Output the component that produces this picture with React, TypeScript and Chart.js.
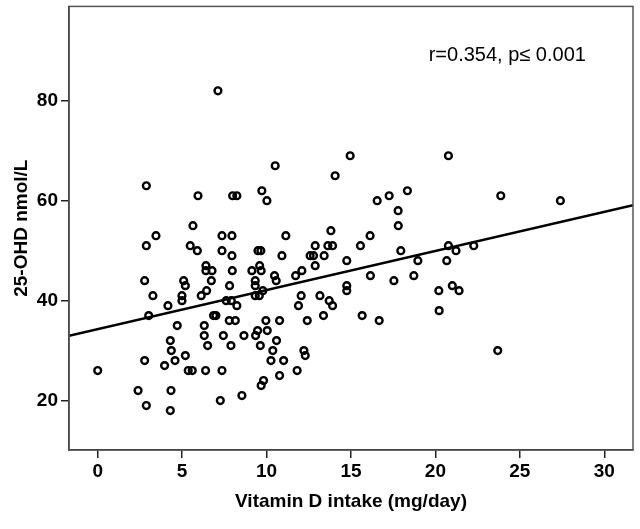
import React, { useEffect, useRef } from 'react';
import { Chart, registerables } from 'chart.js';

Chart.register(...registerables);

// Vitamin D intake (mg/day)
const intakeValues: number[] = [
  7.12, 14.95, 10.51, 14.06, 2.88, 5.94, 7.99, 8.24, 9.72, 10.02,
  20.77, 16.55, 17.26, 18.34, 17.79, 23.87, 27.4,
  17.8, 16.13, 15.56, 14.75, 14.75, 14.75, 17.95, 18.96, 16.15, 17.54, 18.72, 15.66, 16.67,
  20.77, 21.22, 22.27, 20.67, 20.2, 21.0, 21.4, 20.22, 23.69,
  5.64,
  13.81,
  3.45, 7.36, 7.95, 11.14,
  2.88, 5.48, 12.88, 13.63, 13.91,
  5.9, 7.36, 9.49, 9.66,
  7.95, 10.91, 12.58, 12.78, 13.41,
  6.41, 9.59, 12.88,
  6.41, 6.77, 7.97, 9.13, 9.68, 12.09,
  10.47, 11.72,
  2.78, 5.09, 6.73, 9.33, 10.57,
  5.19, 7.81, 9.33,
  6.45, 9.78,
  3.27, 4.99, 6.13, 9.33, 9.57, 12.05, 13.16,
  4.99, 7.61, 7.91, 13.71,
  4.16, 8.24, 11.89, 13.91,
  3.02, 6.86, 7.0, 13.37,
  7.79, 8.15, 9.96, 10.77, 12.41,
  4.71, 6.31,
  9.47, 10.04,
  6.31, 7.44, 8.66, 9.35,
  4.3, 10.59,
  6.51, 7.89, 9.63,
  4.36, 10.37, 12.21,
  5.19, 12.29,
  2.78, 4.58, 10.26, 11.01,
  3.96,
  0, 5.36, 5.6, 6.39, 7.36, 11.81,
  10.77,
  9.82,
  9.68,
  2.39, 4.34,
  8.54,
  7.26,
  2.88,
  4.3,
];

// 25-OHD nmol/L
const ohdValues: number[] = [
  82, 69, 67, 65, 63, 61, 61, 61, 62, 60,
  69, 60, 61, 62, 58, 61, 60,
  55, 53, 51, 48, 43, 42, 50, 48, 45, 44, 45, 37, 36,
  51, 50, 51, 48, 42, 43, 42, 38, 30,
  55,
  54,
  53, 53, 53, 53,
  51, 51, 51, 51, 51,
  50, 50, 50, 50,
  49, 49, 49, 49, 49,
  47, 47, 47,
  46, 46, 46, 46, 46, 46,
  45, 45,
  44, 44, 44, 44, 44,
  43, 43, 43,
  42, 42,
  41, 41, 41, 41, 41, 41, 41,
  40, 40, 40, 40,
  39, 39, 39, 39,
  37, 37, 37, 37,
  36, 36, 36, 36, 36,
  35, 35,
  34, 34,
  33, 33, 33, 33,
  32, 32,
  31, 31, 31,
  30, 30, 30,
  29, 29,
  28, 28, 28, 28,
  27,
  26, 26, 26, 26, 26, 26,
  25,
  24,
  23,
  22, 22,
  21,
  20,
  19,
  18,
];

const xTickValues: number[] = [0, 5, 10, 15, 20, 25, 30];
const yTickValues: number[] = [20, 40, 60, 80];
const xMin = -1.7;
const xMax = 31.7;
const yMin = 10.1;
const yMax = 98.9;

const regIntercept = 34.3;
const regSlope = 0.783;

const annotationText = 'r=0.354, p\u2264 0.001';
const annotationX = 19.6;
const annotationY = 89;

const xTitle = 'Vitamin D intake (mg/day)';
const yTitle = '25-OHD nmol/L';

const FONT = "'Liberation Sans', Arial, Helvetica, sans-serif";

const framePlugin = {
  id: 'frame',
  afterDraw(chart: any) {
    const { ctx, chartArea } = chart;
    ctx.save();
    ctx.strokeStyle = '#555';
    ctx.lineWidth = 1.5;
    ctx.strokeRect(chartArea.left, chartArea.top, chartArea.right - chartArea.left, chartArea.bottom - chartArea.top);
    ctx.restore();
    const xs = chart.scales.x;
    const ys = chart.scales.y;
    ctx.save();
    ctx.fillStyle = '#000';
    ctx.font = `20px ${FONT}`;
    ctx.textBaseline = 'middle';
    ctx.textAlign = 'left';
    ctx.fillText(annotationText, xs.getPixelForValue(annotationX), ys.getPixelForValue(annotationY));
    ctx.restore();
  },
};

export default function App() {
  const canvasRef = useRef<HTMLCanvasElement | null>(null);

  useEffect(() => {
    const canvas = canvasRef.current;
    if (!canvas) return;
    const points = intakeValues.map((x, i) => ({ x, y: ohdValues[i] }));
    const linePts = [
      { x: xMin, y: regIntercept + regSlope * xMin },
      { x: xMax, y: regIntercept + regSlope * xMax },
    ];
    const chart = new Chart(canvas, {
      type: 'scatter',
      data: {
        datasets: [
          {
            type: 'line',
            data: linePts,
            borderColor: '#000',
            borderWidth: 2.5,
            pointRadius: 0,
            fill: false,
            order: 1,
          } as any,
          {
            data: points,
            pointStyle: 'circle',
            pointRadius: 3.4,
            pointBorderWidth: 2.4,
            pointBorderColor: '#000',
            pointBackgroundColor: 'rgba(255,255,255,0)',
            borderColor: '#000',
            backgroundColor: 'rgba(255,255,255,0)',
            order: 0,
          },
        ],
      },
      options: {
        animation: false,
        responsive: false,
        maintainAspectRatio: false,
        layout: { padding: { top: 6, right: 7, left: 6, bottom: 12 } },
        plugins: {
          legend: { display: false },
          tooltip: { enabled: false },
        },
        scales: {
          x: {
            type: 'linear',
            min: xMin,
            max: xMax,
            afterBuildTicks: (scale: any) => {
              scale.ticks = xTickValues.map((v) => ({ value: v }));
            },
            afterFit: (scale: any) => {
              scale.height = 67;
              scale.paddingLeft = 0;
              scale.paddingRight = 0;
            },
            grid: { display: true, drawOnChartArea: false, drawTicks: true, tickLength: 8, color: '#222', lineWidth: 1.5 },
            border: { display: true, color: '#222', width: 1.5 },
            ticks: {
              color: '#000',
              padding: 2,
              font: { family: FONT, size: 19, weight: 'bold' },
            },
            title: {
              display: true,
              text: xTitle,
              color: '#000',
              font: { family: FONT, size: 19, weight: 'bold' },
              padding: { top: 4, bottom: 4 },
            },
          },
          y: {
            type: 'linear',
            min: yMin,
            max: yMax,
            afterBuildTicks: (scale: any) => {
              scale.ticks = yTickValues.map((v) => ({ value: v }));
            },
            afterFit: (scale: any) => {
              scale.width = 63;
              scale.paddingTop = 0;
              scale.paddingBottom = 0;
            },
            grid: { display: true, drawOnChartArea: false, drawTicks: true, tickLength: 8, color: '#222', lineWidth: 1.5 },
            border: { display: true, color: '#222', width: 1.5 },
            ticks: {
              color: '#000',
              padding: 3,
              font: { family: FONT, size: 19, weight: 'bold' },
            },
            title: {
              display: true,
              text: yTitle,
              color: '#000',
              font: { family: FONT, size: 19, weight: 'bold' },
              padding: { top: 4, bottom: 4 },
            },
          },
        },
      },
      plugins: [framePlugin],
    });
    return () => chart.destroy();
  }, []);

  return (
    <div style={{ position: 'fixed', left: 0, top: 0, width: 640, height: 529, background: '#fff' }}>
      <canvas ref={canvasRef} width={640} height={529} style={{ width: 640, height: 529, display: 'block' }} />
    </div>
  );
}
